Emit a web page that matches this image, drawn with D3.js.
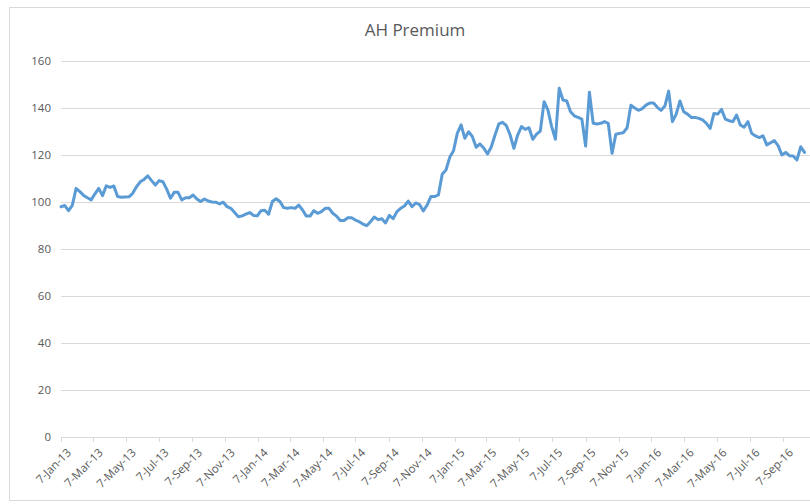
<!DOCTYPE html>
<html>
<head>
<meta charset="utf-8">
<script src="https://cdn.jsdelivr.net/npm/d3@7/dist/d3.min.js"></script>
<style>
  html, body { margin: 0; padding: 0; background: #fff; }
  svg { display: block; }
</style>
</head>
<body>
<svg id="chart" width="810" height="504"></svg>
<script>
// ---- data ----
const title = "AH Premium";
const startDate = "7-Jan-13"; // weekly observations (Mondays)
const premium = [
  98.0, 98.5, 96.3, 98.6, 105.8, 104.4, 102.8, 101.8, 100.9, 103.5,
  105.8, 102.7, 106.9, 106.2, 106.8, 102.3, 102.0, 102.1, 102.2, 103.7,
  106.5, 108.6, 109.6, 111.1, 109.1, 107.2, 109.1, 108.6, 105.5, 101.6,
  104.1, 104.1, 100.9, 101.8, 101.8, 103.0, 101.3, 100.2, 101.3, 100.4,
  100.0, 99.9, 99.2, 99.9, 98.0, 97.3, 95.5, 93.7, 94.1, 94.8,
  95.5, 94.3, 94.1, 96.3, 96.5, 94.8, 100.2, 101.4, 100.2, 97.6,
  97.3, 97.6, 97.3, 98.7, 96.6, 94.0, 94.0, 96.3, 95.2, 95.9,
  97.3, 97.3, 95.2, 94.0, 92.1, 92.1, 93.3, 93.3, 92.3, 91.6,
  90.6, 89.9, 91.6, 93.6, 92.5, 92.9, 91.1, 94.3, 92.9, 95.9,
  97.3, 98.3, 100.4, 98.0, 99.6, 98.9, 96.2, 98.7, 102.3, 102.3,
  103.0, 111.8, 113.6, 119.0, 121.8, 129.2, 132.8, 127.1, 129.9, 127.8,
  123.3, 124.7, 123.0, 120.4, 123.4, 128.5, 133.2, 133.9, 132.5, 128.5,
  122.8, 128.5, 132.1, 130.9, 131.6, 126.7, 128.9, 130.2, 142.7, 139.2,
  132.1, 126.7, 148.4, 143.4, 143.0, 138.4, 136.7, 136.0, 135.3, 123.8,
  146.7, 133.5, 133.2, 133.5, 134.2, 133.5, 120.7, 128.8, 129.2, 129.5,
  131.6, 141.2, 140.0, 139.0, 139.7, 141.2, 142.1, 142.1, 140.3, 139.0,
  140.8, 147.2, 134.2, 137.4, 143.0, 138.4, 137.4, 136.0, 136.0, 135.6,
  134.9, 133.5, 131.3, 137.7, 137.4, 139.4, 135.3, 134.6, 134.2, 137.0,
  132.8, 131.8, 134.2, 129.2, 128.1, 127.4, 128.2, 124.3, 125.2, 126.1,
  124.0, 120.0, 121.1, 119.7, 119.6, 117.9, 123.5, 121.1
];
const xTickLabels = [
  "7-Jan-13", "7-Mar-13", "7-May-13", "7-Jul-13", "7-Sep-13", "7-Nov-13",
  "7-Jan-14", "7-Mar-14", "7-May-14", "7-Jul-14", "7-Sep-14", "7-Nov-14",
  "7-Jan-15", "7-Mar-15", "7-May-15", "7-Jul-15", "7-Sep-15", "7-Nov-15",
  "7-Jan-16", "7-Mar-16", "7-May-16", "7-Jul-16", "7-Sep-16"
];
const yTicks = [0, 20, 40, 60, 80, 100, 120, 140, 160];

// ---- build ----
const parse = d3.timeParse("%d-%b-%y");
const t0 = parse(startDate);
const series = premium.map((v, i) => ({ date: d3.timeDay.offset(t0, 7 * i), value: v }));
const tickDates = xTickLabels.map(parse);

const svg = d3.select("#chart");
const W = 810, H = 504;
const plot = { left: 61, right: 812, top: 61, bottom: 437 };

// chart border
svg.append("rect")
  .attr("x", 9.5).attr("y", 7.5)
  .attr("width", W + 10).attr("height", 493)
  .attr("fill", "#fff").attr("stroke", "#d9d9d9").attr("stroke-width", 1);

const x = d3.scaleTime()
  .domain([parse("7-Jan-13"), parse("7-Jan-16")])
  .range([61, 651.4]);
const y = d3.scaleLinear().domain([0, 160]).range([plot.bottom, plot.top]);

// title
svg.append("text")
  .attr("x", 415).attr("y", 36)
  .attr("text-anchor", "middle")
  .attr("font-family", "'Open Sans', Lato, sans-serif")
  .attr("font-size", 17)
  .attr("fill", "#595959")
  .text(title);

// gridlines + y labels
const yAxis = d3.axisLeft(y)
  .tickValues(yTicks)
  .tickSize(-(plot.right - plot.left))
  .tickPadding(10)
  .tickFormat(d3.format("d"));
const gy = svg.append("g")
  .attr("transform", `translate(${plot.left},0)`)
  .call(yAxis);
gy.select(".domain").remove();
gy.selectAll(".tick line")
  .attr("stroke", "#d9d9d9").attr("stroke-width", 1)
  .attr("shape-rendering", "crispEdges");
gy.selectAll(".tick text")
  .attr("font-family", "'Open Sans', Lato, sans-serif")
  .attr("font-size", 11.5)
  .attr("fill", "#595959");

// x axis
const xAxis = d3.axisBottom(x)
  .tickValues(tickDates)
  .tickSize(5)
  .tickPadding(4)
  .tickFormat((d, i) => xTickLabels[i]);
const gx = svg.append("g")
  .attr("transform", `translate(0,${plot.bottom})`)
  .call(xAxis);
gx.select(".domain")
  .attr("d", `M${plot.left},0.5H${plot.right}`)
  .attr("stroke", "#d9d9d9").attr("shape-rendering", "crispEdges");
gx.selectAll(".tick line")
  .attr("stroke", "#d9d9d9").attr("shape-rendering", "crispEdges");
gx.selectAll(".tick text")
  .attr("font-family", "'Open Sans', Lato, sans-serif")
  .attr("font-size", 11.5)
  .attr("fill", "#595959")
  .attr("text-anchor", "end")
  .attr("dy", 0)
  .attr("transform", "translate(4,10) rotate(-45)");

// line
const line = d3.line()
  .x(d => x(d.date))
  .y(d => y(d.value))
  .curve(d3.curveLinear);
svg.append("path")
  .datum(series)
  .attr("d", line)
  .attr("fill", "none")
  .attr("stroke", "#5b9bd5")
  .attr("stroke-width", 3)
  .attr("stroke-linejoin", "round")
  .attr("stroke-linecap", "round");
</script>
</body>
</html>
